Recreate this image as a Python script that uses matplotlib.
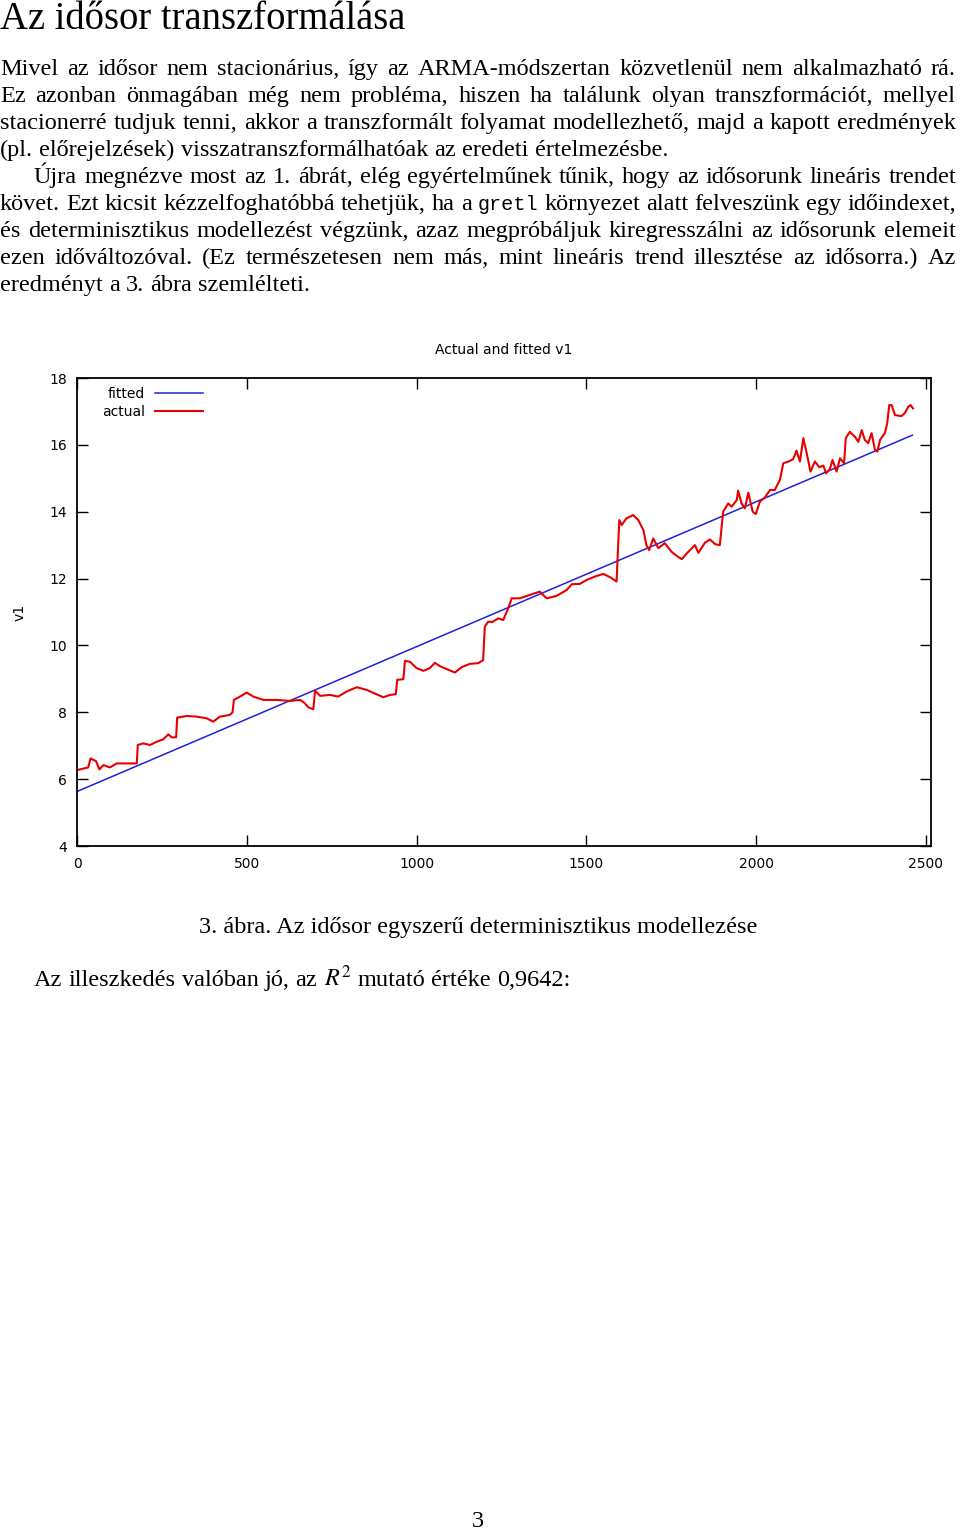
import numpy as np
import matplotlib.pyplot as plt

plt.rcParams['mathtext.fontset'] = 'stix'

W, H = 960, 1529

# actual v1 series (index, value)
actual_x = [0, 33, 40, 56, 66, 78, 97, 117, 146, 176, 179, 195, 215, 235, 254, 269, 279, 292,
            295, 323, 352, 382, 401, 421, 450, 458, 462, 480, 500, 519, 549, 588, 627, 657,
            671, 681, 696, 701, 716, 745, 769, 794, 824, 853, 882, 902, 922, 939, 943, 961,
            966, 981, 1000, 1020, 1039, 1054, 1069, 1089, 1113, 1133, 1157, 1182, 1196, 1201,
            1211, 1223, 1241, 1255, 1270, 1280, 1304, 1334, 1363, 1383, 1412, 1442, 1457, 1481,
            1501, 1525, 1550, 1570, 1589, 1597, 1604, 1618, 1638, 1653, 1668, 1677, 1685, 1697,
            1712, 1731, 1751, 1766, 1781, 1800, 1820, 1830, 1849, 1864, 1879, 1893, 1903, 1918,
            1928, 1943, 1947, 1957, 1967, 1977, 1990, 1999, 2011, 2026, 2041, 2055, 2070, 2080,
            2095, 2109, 2119, 2129, 2139, 2149, 2160, 2173, 2186, 2198, 2206, 2217, 2225, 2237,
            2247, 2259, 2264, 2276, 2291, 2301, 2311, 2320, 2330, 2340, 2350, 2357, 2365, 2379,
            2386, 2392, 2399, 2409, 2428, 2438, 2448, 2455, 2462]
actual_v = [6.27, 6.35, 6.62, 6.54, 6.29, 6.42, 6.35, 6.47, 6.47, 6.47, 7.02, 7.07, 7.02, 7.12,
            7.19, 7.34, 7.25, 7.25, 7.84, 7.89, 7.87, 7.82, 7.72, 7.87, 7.92, 8.00, 8.37, 8.47,
            8.59, 8.47, 8.37, 8.37, 8.34, 8.37, 8.27, 8.15, 8.09, 8.65, 8.49, 8.52, 8.47, 8.62,
            8.75, 8.67, 8.54, 8.45, 8.52, 8.54, 8.97, 8.99, 9.54, 9.51, 9.32, 9.24, 9.32, 9.48,
            9.38, 9.29, 9.19, 9.35, 9.45, 9.47, 9.56, 10.56, 10.71, 10.70, 10.81, 10.76, 11.11,
            11.41, 11.41, 11.51, 11.61, 11.41, 11.48, 11.66, 11.83, 11.84, 11.96, 12.06, 12.14,
            12.04, 11.91, 13.75, 13.60, 13.80, 13.90, 13.75, 13.45, 13.00, 12.85, 13.20, 12.91,
            13.06, 12.80, 12.68, 12.58, 12.80, 13.00, 12.77, 13.07, 13.17, 13.03, 13.00, 14.00,
            14.25, 14.15, 14.35, 14.63, 14.25, 14.10, 14.57, 14.00, 13.93, 14.30, 14.43, 14.65,
            14.65, 14.95, 15.45, 15.50, 15.57, 15.83, 15.50, 16.20, 15.75, 15.20, 15.50, 15.33,
            15.38, 15.15, 15.27, 15.55, 15.20, 15.60, 15.45, 16.20, 16.39, 16.24, 16.09, 16.44,
            16.15, 16.05, 16.35, 15.85, 15.80, 16.15, 16.35, 16.64, 17.19, 17.19, 16.89, 16.86,
            16.95, 17.14, 17.19, 17.09]

# fitted linear trend (end points)
fitted_x = [0, 2460]
fitted_v = [5.63, 16.29]

x_ticks = [0, 500, 1000, 1500, 2000, 2500]
y_ticks = [4, 6, 8, 10, 12, 14, 16, 18]

heading = 'Az idősor transzformálása'
para1 = ['Mivel az idősor nem stacionárius, így az ARMA-módszertan közvetlenül nem alkalmazható rá.',
         'Ez azonban önmagában még nem probléma, hiszen ha találunk olyan transzformációt, mellyel',
         'stacionerré tudjuk tenni, akkor a transzformált folyamat modellezhető, majd a kapott eredmények',
         '(pl. előrejelzések) visszatranszformálhatóak az eredeti értelmezésbe.']
para2 = ['Újra megnézve most az 1. ábrát, elég egyértelműnek tűnik, hogy az idősorunk lineáris trendet',
         'követ. Ezt kicsit kézzelfoghatóbbá tehetjük, ha a gretl környezet alatt felveszünk egy időindexet,',
         'és determinisztikus modellezést végzünk, azaz megpróbáljuk kiregresszálni az idősorunk elemeit',
         'ezen időváltozóval. (Ez természetesen nem más, mint lineáris trend illesztése az idősorra.) Az',
         'eredményt a 3. ábra szemlélteti.']
caption = '3. ábra. Az idősor egyszerű determinisztikus modellezése'
after = 'Az illeszkedés valóban jó, az $R^2$ mutató értéke 0,9642:'


def fx(px):
    return px / W


def fy(py):
    return 1 - py / H


fig = plt.figure(figsize=(9.6, 15.29), dpi=100)
renderer = fig.canvas.get_renderer()

SERIF = 'Liberation Serif'
MONO = 'Liberation Mono'
BODY = 17.5


def width(t, **kw):
    tt = fig.text(0, 0, t, **kw)
    w = tt.get_window_extent(renderer).width
    tt.remove()
    return w


def text_line(s, base, x0=0, x1=956, justify=True, size=BODY):
    words = s.split(' ')
    styles = [dict(family=MONO, fontsize=14.5) if w == 'gretl' else dict(family=SERIF, fontsize=size)
              for w in words]
    ws = [width(w, **st) for w, st in zip(words, styles)]
    if justify and len(words) > 1:
        gap = (x1 - x0 - sum(ws)) / (len(words) - 1)
    else:
        gap = width('a a', family=SERIF, fontsize=size) - width('aa', family=SERIF, fontsize=size)
    x = x0
    for w, st, ww in zip(words, styles, ws):
        fig.text(fx(x), fy(base), w, va='baseline', ha='left', **st)
        x += ww + gap


fig.text(fx(0), fy(29), heading, family=SERIF, fontsize=27.8, va='baseline')

bases1 = [75, 102, 129, 156]
for i, (s, b) in enumerate(zip(para1, bases1)):
    text_line(s, b, justify=i < len(para1) - 1)
bases2 = [183, 210, 237, 264, 291]
for i, (s, b) in enumerate(zip(para2, bases2)):
    text_line(s, b, x0=34 if i == 0 else 0, justify=i < len(para2) - 1)

fig.text(fx(478), fy(933), caption, family=SERIF, fontsize=BODY, ha='center', va='baseline')
text_line(after, 986, x0=34, justify=False)
fig.text(fx(478), fy(1527), '3', family=SERIF, fontsize=BODY, ha='center', va='baseline')

# the chart
ax = fig.add_axes([fx(77), fy(846), 854 / W, 468 / H])
blue = '#2020dc'
red = '#e80000'
l_fit, = ax.plot(fitted_x, fitted_v, color=blue, lw=1.1)
l_act, = ax.plot(actual_x, actual_v, color=red, lw=1.5)
ax.set_xlim(0, 2515)
ax.set_ylim(4, 18)
ax.set_xticks(x_ticks)
ax.set_yticks(y_ticks)
ax.tick_params(direction='in', length=8, width=1, top=True, right=True,
               labelsize=10, pad=7, colors='black')
ax.tick_params(axis='x', pad=8)
for sp in ax.spines.values():
    sp.set_linewidth(1.3)

ax.legend([l_fit, l_act], ['fitted', 'actual'], loc='upper left',
          bbox_to_anchor=((102 - 77) / 854, (846 - 387) / 468), markerfirst=False,
          frameon=False, handlelength=3.5, handletextpad=0.7, labelspacing=0.28,
          fontsize=10, borderaxespad=0, borderpad=0)

fig.text(fx(504), fy(350), 'Actual and fitted v1', ha='center', va='center', fontsize=10)
fig.text(fx(20), fy(612), 'v1', rotation=90, ha='center', va='center', fontsize=10)

fig.savefig('out.png', dpi=100)
